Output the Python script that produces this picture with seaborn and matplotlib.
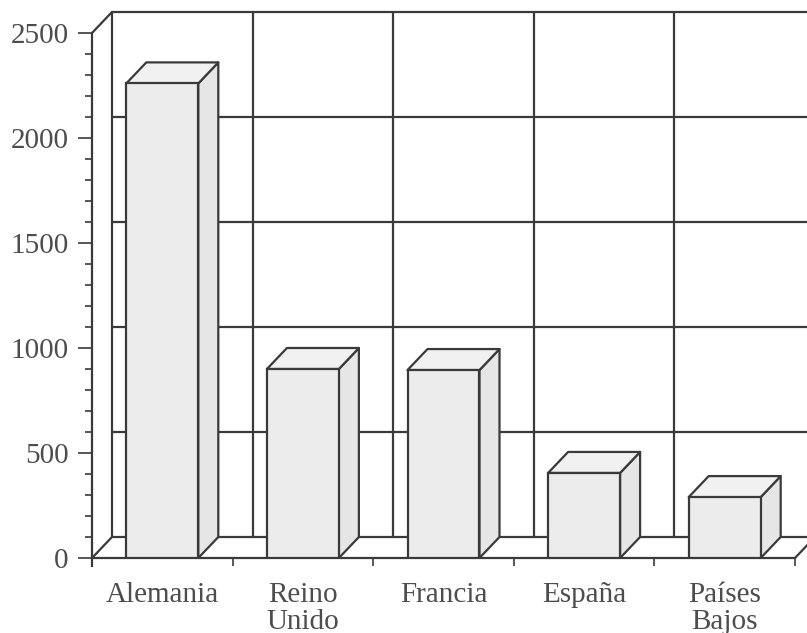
import matplotlib
matplotlib.use("Agg")
import matplotlib.pyplot as plt
from matplotlib.patches import Polygon
import numpy as np
import pandas as pd
import seaborn as sns

# Data
paises = ["Alemania", "Reino\nUnido", "Francia", "España", "Países\nBajos"]
valores = [2260, 900, 895, 405, 290]
ymax = 2500
ymajor = [0, 500, 1000, 1500, 2000, 2500]

sns.set_theme(style="white")
plt.rcParams["font.family"] = ["Liberation Serif", "DejaVu Serif"]

W, H, DPI = 807, 633, 100
fig = plt.figure(figsize=(W / DPI, H / DPI), dpi=DPI)
fig.patch.set_facecolor("white")

# front plane of the box in pixels
x_left, x_right = 92, 795
y_bottom, y_top = 558, 33
ax = fig.add_axes([x_left / W, (H - y_bottom) / H,
                   (x_right - x_left) / W, (y_bottom - y_top) / H])
ax.set_facecolor("none")

n = len(paises)
ax.set_xlim(-0.5, n - 0.5)
ax.set_ylim(0, ymax)

# depth of the 3D box, expressed in data units
depth_px_x, depth_px_y = 20, 21
ddx = depth_px_x / ((x_right - x_left) / n)
ddy = depth_px_y / ((y_bottom - y_top) / ymax)

line_c = "#3a3a3a"
text_c = "#4d4d4d"
lw = 1.6
fs = 21

# back wall: horizontal grid and vertical separators
for v in ymajor:
    ax.plot([-0.5 + ddx, n - 0.5 + ddx + 1], [v + ddy, v + ddy],
            color=line_c, lw=lw, zorder=1, clip_on=False, solid_capstyle="butt")
for k in range(n + 1):
    ax.plot([-0.5 + k + ddx] * 2, [ddy, ymax + ddy],
            color=line_c, lw=lw, zorder=1, clip_on=False)
# left wall edges and floor edges
ax.plot([-0.5, -0.5 + ddx], [ymax, ymax + ddy], color=line_c, lw=lw, zorder=1, clip_on=False)
ax.plot([-0.5, -0.5 + ddx], [0, ddy], color=line_c, lw=lw, zorder=1, clip_on=False)
ax.plot([n - 0.5, n - 0.5 + ddx], [0, ddy], color=line_c, lw=lw, zorder=1, clip_on=False)
ax.plot([-0.5, n - 0.5], [0, 0], color=line_c, lw=lw, zorder=1, clip_on=False)

# front faces of the bars
df = pd.DataFrame({"pais": paises, "valor": valores})
sns.barplot(data=df, x="pais", y="valor", ax=ax, width=0.512,
            color="#ececec", edgecolor=line_c, linewidth=lw, saturation=1,
            zorder=3)
ax.set_xlim(-0.5, n - 0.5)
ax.set_ylim(0, ymax)

# side and top faces from each bar's geometry
for p in list(ax.patches):
    x0 = p.get_x()
    x1 = x0 + p.get_width()
    h = p.get_height()
    side = Polygon([(x1, 0), (x1 + ddx, ddy), (x1 + ddx, h + ddy), (x1, h)],
                   closed=True, facecolor="#e6e6e6", edgecolor=line_c, lw=lw,
                   zorder=2.9, joinstyle="round")
    top = Polygon([(x0, h), (x0 + ddx, h + ddy), (x1 + ddx, h + ddy), (x1, h)],
                  closed=True, facecolor="#f1f1f1", edgecolor=line_c, lw=lw,
                  zorder=2.9, joinstyle="round")
    ax.add_patch(side)
    ax.add_patch(top)

# axes styling
for s in ["top", "right", "bottom"]:
    ax.spines[s].set_visible(False)
ax.spines["left"].set_color(line_c)
ax.spines["left"].set_linewidth(lw)
ax.spines["left"].set_bounds(-8 * ymax / (y_bottom - y_top), ymax)
ax.spines["left"].set_zorder(4)

ax.set_yticks(ymajor)
ax.set_yticks(np.arange(0, ymax + 1, 100), minor=True)
ax.tick_params(axis="y", which="major", direction="out", length=10, width=1.2,
               color=line_c, labelsize=fs, labelcolor=text_c, pad=7, left=True)
ax.tick_params(axis="y", which="minor", direction="out", length=5, width=1.2,
               color=line_c, left=True)

ax.set_xticks(range(n))
ax.set_xticklabels(paises, linespacing=1.05)
ax.set_xticks(np.arange(-0.5, n, 1.0), minor=True)
ax.tick_params(axis="x", which="major", length=0, labelsize=fs,
               labelcolor=text_c, pad=17, bottom=True)
ax.tick_params(axis="x", which="minor", direction="out", length=6, width=1.2,
               color=line_c, bottom=True)
ax.set_xlabel("")
ax.set_ylabel("")
ax.grid(False)

fig.savefig("out.png", dpi=DPI, facecolor="white")
